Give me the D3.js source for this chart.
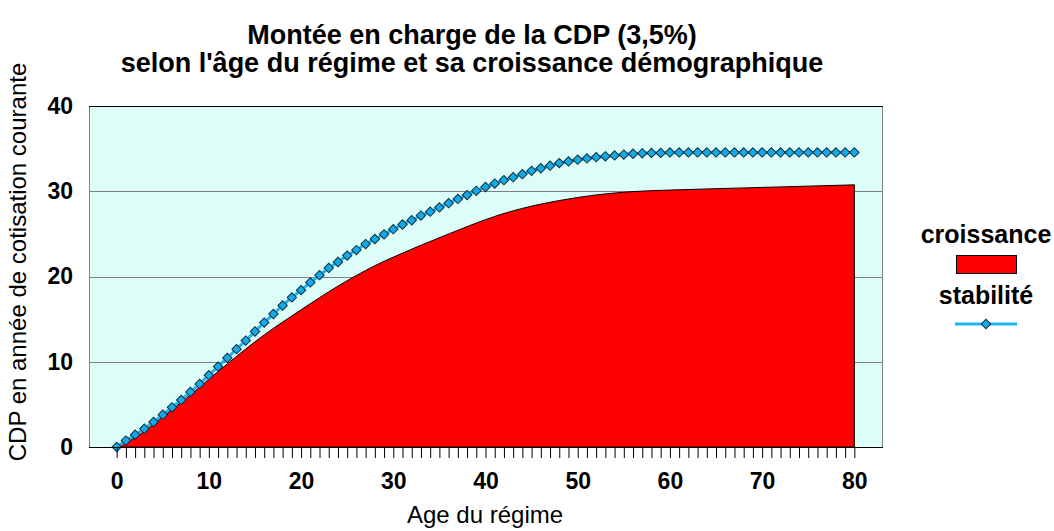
<!DOCTYPE html>
<html>
<head>
<meta charset="utf-8">
<script src="https://cdn.jsdelivr.net/npm/d3@7"></script>
<style>
body { margin: 0; background: #fff; }
text { font-family: "Liberation Sans", Arial, sans-serif; fill: #000; }
</style>
</head>
<body>
<div id="chart"></div>
<script>
// données
var titleLines = ["Montée en charge de la CDP (3,5%)", "selon l'âge du régime et sa croissance démographique"]
var seriesNames = ['croissance', 'stabilité']
var yTicks = [0, 10, 20, 30, 40]
var xLabels = [0, 10, 20, 30, 40, 50, 60, 70, 80]
var ages = d3.range(0, 81)

// stabilité : une valeur par année 0..80
var stabilite = [0, 0.75, 1.45, 2.15, 2.93, 3.79, 4.66, 5.52, 6.46, 7.4,
	8.42, 9.43, 10.45, 11.47, 12.48, 13.55, 14.6, 15.6, 16.6, 17.55,
	18.4, 19.3, 20.15, 21.0, 21.7, 22.45, 23.1, 23.8, 24.4, 24.95,
	25.55, 26.1, 26.6, 27.15, 27.6, 28.1, 28.6, 29.1, 29.55, 30.05,
	30.5, 30.9, 31.3, 31.65, 32.0, 32.4, 32.7, 33.0, 33.3, 33.5,
	33.7, 33.85, 34.0, 34.1, 34.2, 34.3, 34.4, 34.45, 34.5, 34.5,
	34.55, 34.55, 34.55, 34.55, 34.55, 34.55, 34.55, 34.55, 34.55, 34.55,
	34.55, 34.55, 34.55, 34.55, 34.55, 34.55, 34.55, 34.55, 34.55, 34.55, 34.55]

// croissance : relevé tous les 2 ans environ
var croissanceAges = [0, 2, 5, 8, 10, 12, 14, 16, 18, 20, 22, 24, 26, 28, 30, 32, 34, 36, 38, 40,
	42, 44, 46, 48, 50, 53, 56, 60, 65, 70, 75, 80]
var croissance = [0, 1.1, 3.55, 6.1, 7.95, 9.75, 11.5, 13.15, 14.65, 16.1, 17.52, 18.87, 20.12, 21.27, 22.27, 23.21, 24.11, 24.99, 25.85, 26.67,
	27.39, 27.99, 28.49, 28.91, 29.27, 29.69, 29.96, 30.14, 30.3, 30.45, 30.6, 30.75]

var W = 1054, H = 531
var plotL = 89, plotR = 882, plotT = 106, plotB = 447

var svg = d3.select('#chart').append('svg')
	.attr('width', W)
	.attr('height', H)

var x = d3.scaleLinear().domain([-3, 83]).range([plotL, plotR])
var y = d3.scaleLinear().domain([0, 40]).range([plotB, plotT])

// zone de tracé
svg.append('rect')
	.attr('x', plotL + 0.5).attr('y', plotT + 0.5)
	.attr('width', plotR - plotL).attr('height', plotB - plotT)
	.attr('fill', '#ddfdf8')
	.attr('stroke', '#808080')

svg.append('g').attr('class', 'grid')
	.selectAll('line').data(yTicks.filter(d => d > 0 && d < 40))
	.enter().append('line')
	.attr('x1', plotL).attr('x2', plotR)
	.attr('y1', d => Math.round(y(d)) + 0.5).attr('y2', d => Math.round(y(d)) + 0.5)
	.attr('stroke', '#808080')

svg.append('line')
	.attr('x1', plotL).attr('x2', plotR + 1)
	.attr('y1', plotT + 0.5).attr('y2', plotT + 0.5)
	.attr('stroke', '#000')

// croissance (aire rouge)
var pts = croissanceAges.map((a, i) => [a, croissance[i]])
var area = d3.area()
	.x(d => x(d[0]))
	.y0(y(0))
	.y1(d => y(d[1]))
	.curve(d3.curveMonotoneX)
svg.append('path')
	.datum(pts)
	.attr('d', area)
	.attr('fill', '#ff0000')
	.attr('stroke', '#000')
	.attr('stroke-width', 1)

// stabilité (ligne + losanges)
var line = d3.line()
	.x((d, i) => x(ages[i]))
	.y(d => y(d))
svg.append('path')
	.datum(stabilite)
	.attr('d', line)
	.attr('fill', 'none')
	.attr('stroke', '#1cb6f2')
	.attr('stroke-width', 3)

var diamond = d3.symbol().type(d3.symbolSquare).size(44)
svg.append('g').selectAll('path').data(stabilite)
	.enter().append('path')
	.attr('d', diamond)
	.attr('transform', (d, i) => 'translate(' + x(ages[i]) + ',' + y(d) + ') rotate(45)')
	.attr('fill', '#14aae8')
	.attr('stroke', '#0d2f40')
	.attr('stroke-width', 1)

// axes
var xAxis = d3.axisBottom(x)
	.tickValues(ages)
	.tickSize(11)
	.tickPadding(15)
	.tickFormat(d => xLabels.indexOf(d) >= 0 ? d : '')
var gx = svg.append('g')
	.attr('transform', 'translate(0,' + plotB + ')')
	.call(xAxis)
gx.select('.domain').attr('d', 'M' + plotL + ',0.5H' + (plotR + 1)).attr('stroke', '#000')
gx.selectAll('.tick line').attr('stroke', '#000')
gx.selectAll('text')
	.style('font-size', '23px')
	.style('font-weight', 'bold')
	.style('font-family', '"Liberation Sans", Arial, sans-serif')

var yAxis = d3.axisLeft(y)
	.tickValues(yTicks)
	.tickSize(0)
	.tickPadding(16)
var gy = svg.append('g')
	.attr('transform', 'translate(' + plotL + ',0)')
	.call(yAxis)
gy.select('.domain').remove()
gy.selectAll('text')
	.style('font-size', '23px')
	.style('font-weight', 'bold')
	.style('font-family', '"Liberation Sans", Arial, sans-serif')

// titres
svg.append('g').selectAll('text').data(titleLines)
	.enter().append('text')
	.attr('x', 472)
	.attr('y', (d, i) => 44 + i * 28)
	.attr('text-anchor', 'middle')
	.style('font-size', '27px')
	.style('font-weight', 'bold')
	.text(d => d)

svg.append('text')
	.attr('x', 485).attr('y', 523)
	.attr('text-anchor', 'middle')
	.style('font-size', '24px')
	.text('Age du régime')

svg.append('text')
	.attr('transform', 'translate(26,262) rotate(-90)')
	.attr('text-anchor', 'middle')
	.style('font-size', '24px')
	.text('CDP en année de cotisation courante')

// légende
var lg = svg.append('g')
lg.append('text')
	.attr('x', 986).attr('y', 243)
	.attr('text-anchor', 'middle')
	.style('font-size', '25px').style('font-weight', 'bold')
	.text(seriesNames[0])
lg.append('rect')
	.attr('x', 956.5).attr('y', 255.5)
	.attr('width', 60).attr('height', 18)
	.attr('fill', '#ff0000').attr('stroke', '#000')
lg.append('text')
	.attr('x', 986).attr('y', 304)
	.attr('text-anchor', 'middle')
	.style('font-size', '25px').style('font-weight', 'bold')
	.text(seriesNames[1])
lg.append('line')
	.attr('x1', 955).attr('x2', 1017)
	.attr('y1', 324).attr('y2', 324)
	.attr('stroke', '#1cb6f2').attr('stroke-width', 3)
lg.append('path')
	.attr('d', diamond)
	.attr('transform', 'translate(986,324) rotate(45)')
	.attr('fill', '#14aae8')
	.attr('stroke', '#0d2f40')
</script>
</body>
</html>
